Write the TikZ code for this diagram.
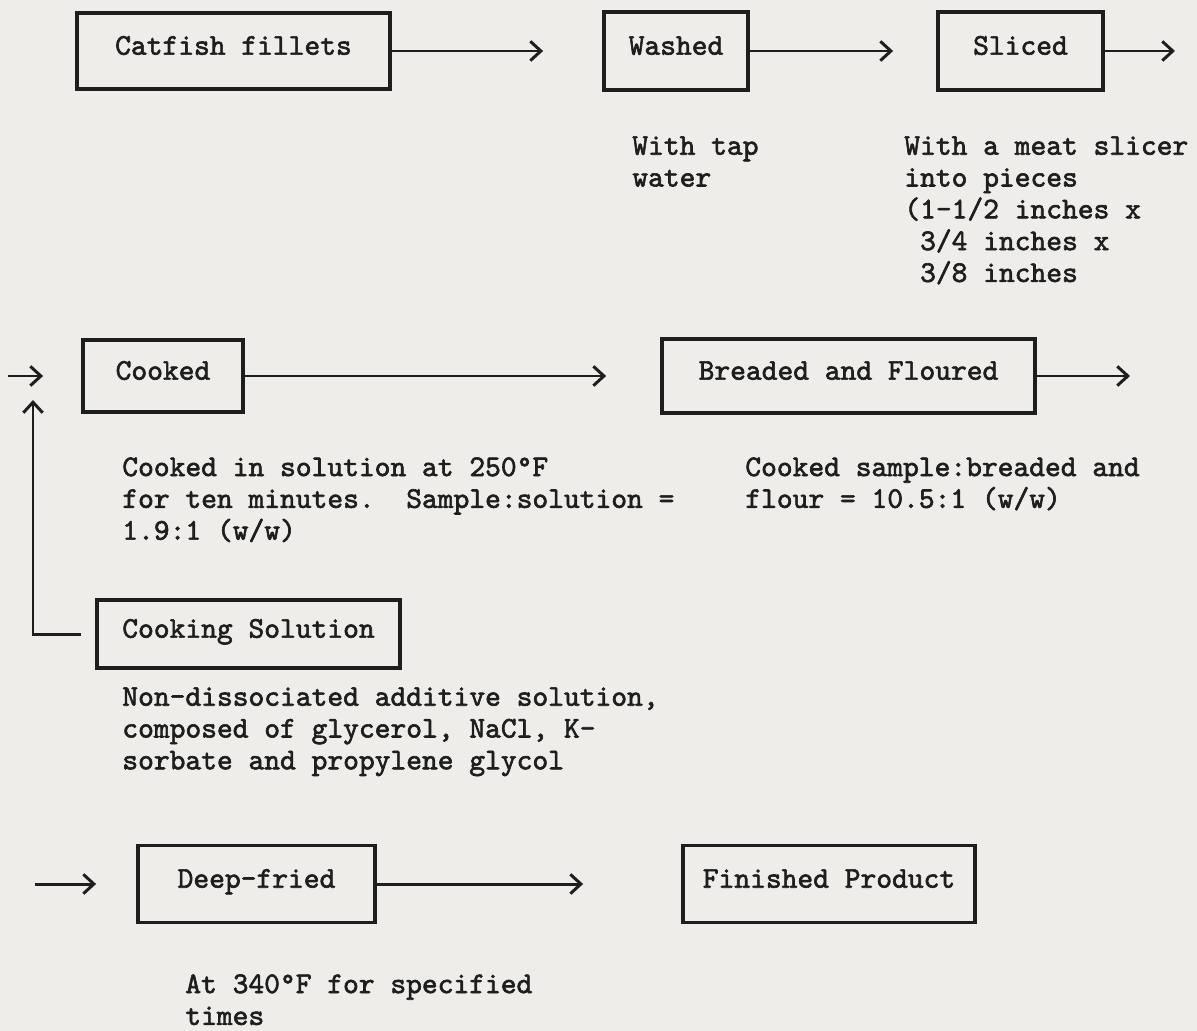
\documentclass[tikz,border=0pt]{standalone}
\usepackage{fontspec}
\newfontfamily\typewriter{lmmono10-regular.otf}[FakeBold=2]
\usetikzlibrary{arrows.meta}
\definecolor{paper}{RGB}{238,237,233}
\definecolor{ink}{RGB}{30,30,30}

\begin{document}
\begin{tikzpicture}[x=0.02cm, y=-0.02cm,
    every node/.style={font=\typewriter\frenchspacing\fontsize{17.1}{18.1}\selectfont, text=ink},
    stage/.style={draw=ink, line width=2.2pt, inner sep=0pt, text height=0.62em, text depth=0.2em},
    note/.style={anchor=north west, align=left, inner sep=0pt},
    flow/.style={draw=ink, line width=1.7pt, -{Straight Barb[length=6pt,width=11pt]}}]
    \fill[paper] (0,0) rectangle (1197,1031);
    \useasboundingbox (0,0) rectangle (1197,1031);

    % first row
    \node (fillets) [stage, minimum width=6.26cm, minimum height=1.52cm] at (233.5,51) {Catfish fillets};
    \node (washed) [stage, minimum width=2.88cm, minimum height=1.56cm] at (676,51) {Washed};
    \node (sliced) [stage, minimum width=3.30cm, minimum height=1.56cm] at (1020.5,51) {Sliced};
    \coordinate (out1) at (1175,51);
    \node (washnote) [note] at (632,136) {With tap\\water};
    \node (slicenote) [note] at (904,136) {With a meat slicer\\into pieces\\(1-1/2 inches x\\\phantom{(}3/4 inches x\\\phantom{(}3/8 inches};
    \draw[flow, shorten >=1.18cm] (fillets) -- (washed);
    \draw[flow, shorten >=0.86cm] (washed) -- (sliced);
    \draw[flow] (sliced) -- (out1);

    % second row
    \coordinate (in2) at (8,376);
    \node (cooked) [stage, minimum width=3.2cm, minimum height=1.44cm] at (163,376) {Cooked};
    \node (breaded) [stage, minimum width=7.46cm, minimum height=1.48cm] at (848.5,376) {Breaded and Floured};
    \coordinate (out2) at (1130,376);
    \node (cooknote) [note] at (122,457) {Cooked in solution at 250°F\\for ten minutes.~ Sample:solution =\\1.9:1 (w/w)};
    \node (breadnote) [note] at (745,457) {Cooked sample:breaded and\\flour = 10.5:1 (w/w)};
    \draw[flow, shorten >=0.76cm] (in2) -- (cooked);
    \draw[flow, shorten >=1.08cm] (cooked) -- (breaded);
    \draw[flow] (breaded) -- (out2);

    % cooking solution
    \node (solution) [stage, minimum width=6.06cm, minimum height=1.36cm] at (248.5,634) {Cooking Solution};
    \coordinate (feed) at (33,400);
    \node (solnote) [note] at (122,687) {Non-dissociated additive solution,\\composed of glycerol, NaCl, K-\\sorbate and propylene glycol};
    \draw[flow, shorten <=0.28cm] (solution) -| (feed);

    % third row
    \coordinate (in3) at (35,884);
    \node (fried) [stage, minimum width=4.74cm, minimum height=1.54cm] at (256.5,884) {Deep-fried};
    \node (product) [stage, minimum width=5.84cm, minimum height=1.54cm] at (829,884) {Finished Product};
    \node (frynote) [note] at (185,974) {At 340°F for specified\\times};
    \draw[flow, shorten >=0.8cm] (in3) -- (fried);
    \draw[flow, shorten >=1.96cm] (fried) -- (product);
\end{tikzpicture}
\end{document}
